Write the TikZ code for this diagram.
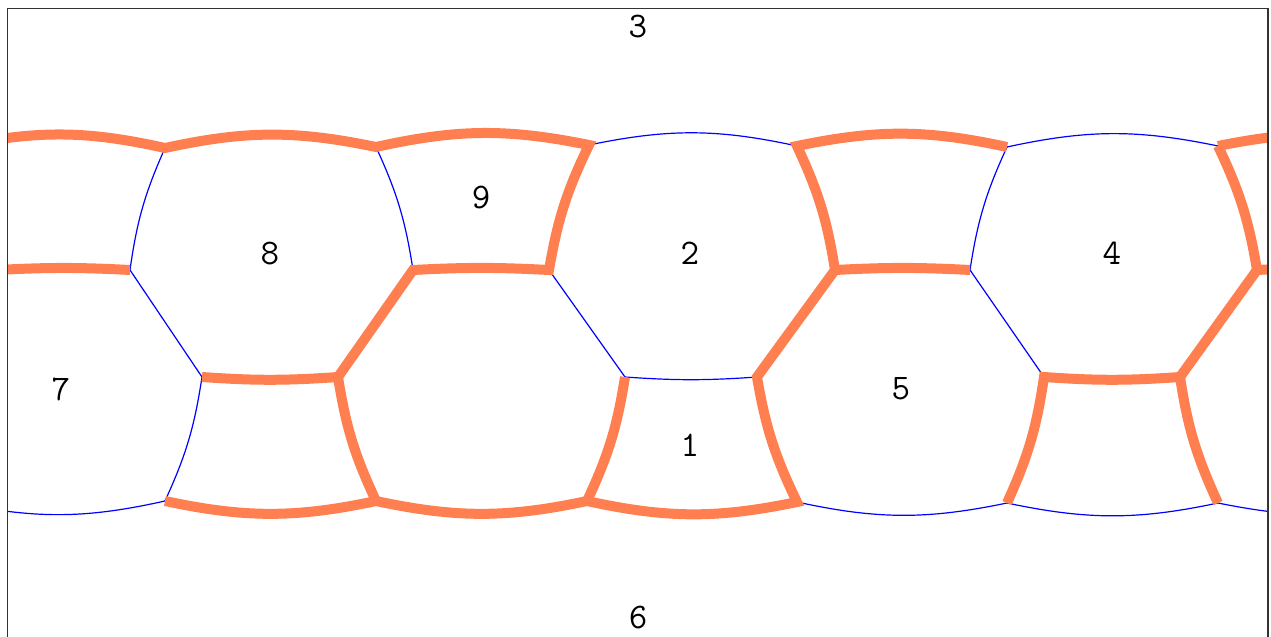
\documentclass[tikz,border=0pt]{standalone}
\usepackage{tikz}
\usetikzlibrary{positioning}
\definecolor{Coral}{HTML}{FF7F50}
\definecolor{Edge}{HTML}{0000FF}
\definecolor{Frame}{HTML}{333333}

\begin{document}
\begin{tikzpicture}[
  x=0.5pt,y=-0.5pt,
  wall/.style={draw=Coral,line width=5pt},
  link/.style={draw=Edge,line width=0.6pt},
  frame/.style={draw=Frame,line width=0.8pt},
  region/.style={font=\fontsize{18}{20}\selectfont\ttfamily,inner sep=0pt}
]
\useasboundingbox (0,0) rectangle (1271,637);
% vertices
\coordinate (A0) at (-40,146);
\coordinate (A1) at (165,148);
\coordinate (A2) at (376,147);
\coordinate (A3) at (589,145);
\coordinate (A4) at (797,146);
\coordinate (A5) at (1007,147);
\coordinate (A6) at (1218,146);
\coordinate (A7) at (1425,148);
\coordinate (B0) at (-3,270);
\coordinate (B1) at (130,270);
\coordinate (B2) at (413,270);
\coordinate (B3) at (549,270);
\coordinate (B4) at (835,270);
\coordinate (B5) at (970,270);
\coordinate (B6) at (1257,270);
\coordinate (B7) at (1390,270);
\coordinate (C1) at (202,377);
\coordinate (C2) at (338,377);
\coordinate (C3) at (625,377);
\coordinate (C4) at (757,377);
\coordinate (C5) at (1044,377);
\coordinate (C6) at (1180,377);
\coordinate (D0) at (-42,503);
\coordinate (D1) at (165,501);
\coordinate (D2) at (376,501);
\coordinate (D3) at (587,501);
\coordinate (D4) at (797,502);
\coordinate (D5) at (1007,503);
\coordinate (D6) at (1218,503);
\coordinate (D7) at (1425,501);
\begin{scope}
\clip (8,8.5) rectangle (1268,640);
% thin edges
\draw[link] (A3) to[bend left=12] (A4);
\draw[link] (A5) to[bend left=12] (A6);
\draw[link] (A1) to[bend right=8] (B1);
\draw[link] (A2) to[bend left=8] (B2);
\draw[link] (A5) to[bend right=8] (B5);
\draw[link] (B1) -- (C1);
\draw[link] (B3) -- (C3);
\draw[link] (B5) -- (C5);
\draw[link] (C3) to[bend right=4] (C4);
\draw[link] (C1) to[bend left=8] (D1);
\draw[link] (D0) to[bend right=12] (D1);
\draw[link] (D4) to[bend right=12] (D5) to[bend right=12] (D6) to[bend right=12] (D7);
% thick edges
\draw[wall] (A0) to[bend left=12] (A1) to[bend left=12] (A2) to[bend left=12] (A3)
  to[bend right=8] (B3) to[bend right=3] (B2) -- (C2) to[bend left=4] (C1);
\draw[wall] (C2) to[bend right=8] (D2);
\draw[wall] (D1) to[bend right=12] (D2) to[bend right=12] (D3) to[bend right=12] (D4)
  to[bend left=8] (C4) -- (B4) to[bend right=8] (A4) to[bend left=12] (A5);
\draw[wall] (B4) to[bend left=3] (B5);
\draw[wall] (C3) to[bend left=8] (D3);
\draw[wall] (B0) to[bend left=3] (B1);
\draw[wall] (A6) to[bend left=12] (A7);
\draw[wall] (A6) to[bend left=8] (B6);
\draw[wall] (B7) to[bend right=3] (B6) -- (C6) to[bend left=4] (C5) to[bend left=8] (D5);
\draw[wall] (C6) to[bend right=8] (D6);
\end{scope}
\draw[frame] (7.5,637) -- (7.5,8.5) -- (1268,8.5) -- (1268,637);
% region labels
\node[region] (r3) at (638,27) {3};
\node[region] (r8) at (270,253) {8};
\node[region] (r9) at (481,198) {9};
\node[region] (r2) at (690,253) {2};
\node[region] (r4) at (1112,253) {4};
\node[region] (r7) at (61,389) {7};
\node[region] (r5) at (901,389) {5};
\node[region] (r1) at (690,445) {1};
\node[region] (r6) at (638,617) {6};
\end{tikzpicture}
\end{document}
